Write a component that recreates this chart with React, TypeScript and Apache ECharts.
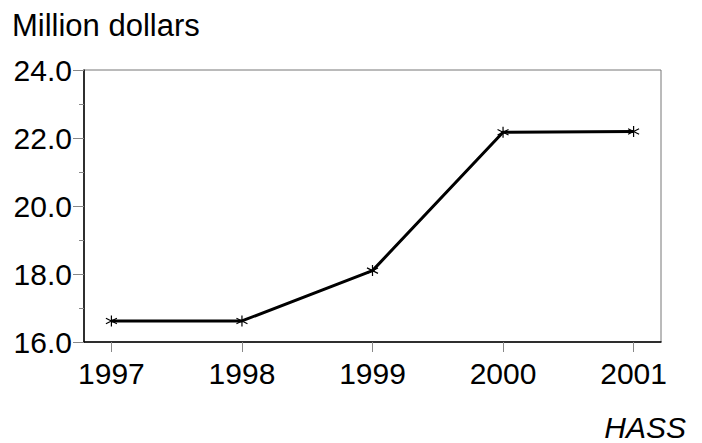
import React, { useEffect, useRef } from "react";
import * as echarts from "echarts";

const years = [1997, 1998, 1999, 2000, 2001];
const values = [16.62, 16.62, 18.1, 22.17, 22.19];
const yTicks = [16, 18, 20, 22, 24];
const yTitle = "Million dollars";
const source = "HASS";

const FONT = "'Liberation Sans', Arial, sans-serif";

export default function App() {
  const ref = useRef<HTMLDivElement>(null);
  useEffect(() => {
    if (!ref.current) return;
    const chart = echarts.init(ref.current, null, { renderer: "svg" });
    chart.setOption({
      animation: false,
      backgroundColor: "#fff",
      textStyle: { fontFamily: FONT },
      grid: {
        left: 84,
        right: 41,
        top: 70,
        bottom: 101,
        show: true,
        borderColor: "#777",
        borderWidth: 1,
        backgroundColor: "transparent",
      },
      xAxis: {
        type: "value",
        min: 1996.79,
        max: 2001.21,
        splitLine: { show: false },
        axisLine: { show: true, lineStyle: { color: "#000", width: 1.5 } },
        axisTick: {
          show: true,
          customValues: years,
          length: 10,
          lineStyle: { color: "#888", width: 1 },
        },
        axisLabel: {
          customValues: years,
          formatter: (v: number) => String(Math.round(v)),
          fontSize: 30,
          color: "#000",
          fontFamily: FONT,
          margin: 16,
        },
      },
      yAxis: {
        type: "value",
        min: yTicks[0],
        max: yTicks[yTicks.length - 1],
        interval: 2,
        splitLine: { show: false },
        axisLine: { show: true, lineStyle: { color: "#000", width: 1.5 } },
        axisTick: { show: true, length: 11, lineStyle: { color: "#888", width: 1 } },
        minorTick: { show: true, splitNumber: 2, length: 5, lineStyle: { color: "#888", width: 1 } },
        axisLabel: {
          formatter: (v: number) => v.toFixed(1),
          fontSize: 30,
          color: "#000",
          fontFamily: FONT,
          margin: 12,
        },
      },
      graphic: [
        {
          type: "text",
          left: 12,
          top: 10,
          style: { text: yTitle, fontSize: 31, fill: "#000", fontFamily: FONT },
        },
        {
          type: "text",
          right: 16,
          top: 412,
          style: { text: source, fontSize: 30, fontStyle: "italic", fill: "#000", fontFamily: FONT },
        },
      ],
      series: [
        {
          type: "line",
          data: years.map((y, i) => [y, values[i]]),
          lineStyle: { color: "#000", width: 3 },
          symbol: "path://M0,-5L0,5M-4.33,-2.5L4.33,2.5M-4.33,2.5L4.33,-2.5",
          symbolSize: 11,
          itemStyle: { color: "none", borderColor: "#000", borderWidth: 1.2 },
          z: 3,
        },
      ],
    });
    return () => chart.dispose();
  }, []);
  return (
    <div
      ref={ref}
      style={{ position: "fixed", left: 0, top: 0, width: 702, height: 443, background: "#fff" }}
    />
  );
}
